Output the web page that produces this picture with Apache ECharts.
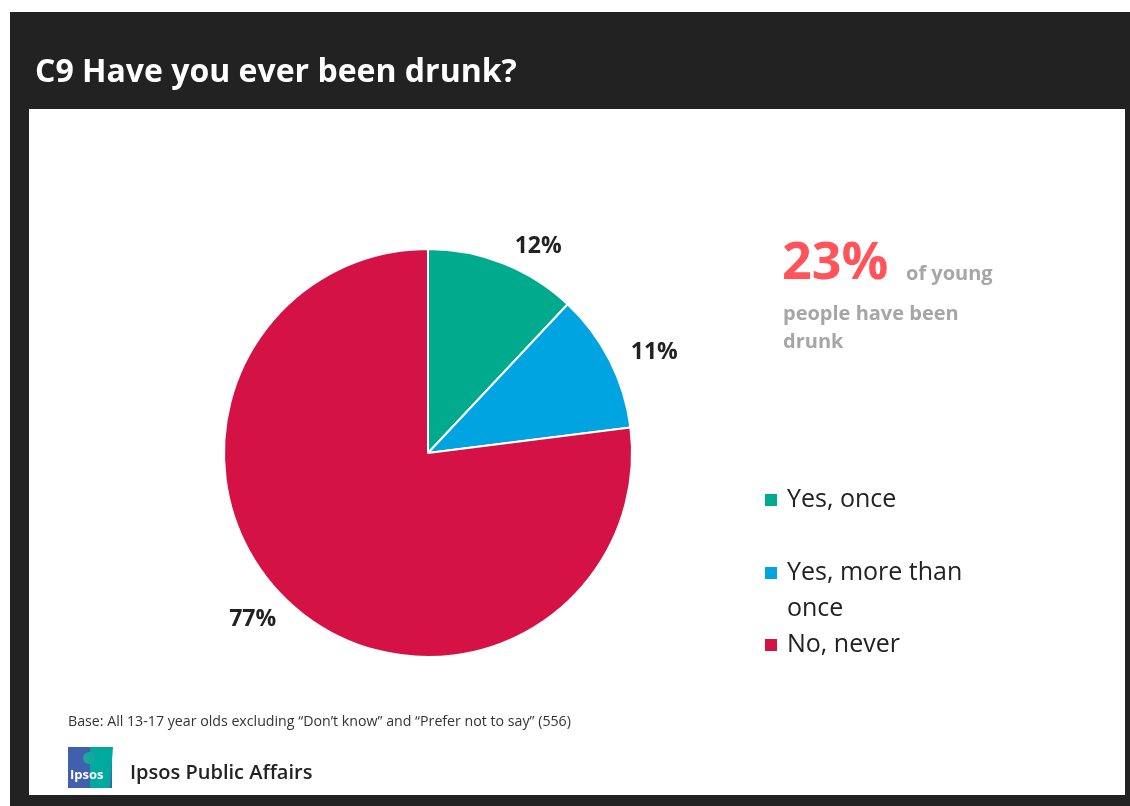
<!DOCTYPE html>
<html>
<head>
<meta charset="utf-8">
<script src="https://cdn.jsdelivr.net/npm/echarts@6/dist/echarts.min.js"></script>
<style>
html,body{margin:0;padding:0;background:#fff;}
#chart{width:1130px;height:806px;}
</style>
</head>
<body>
<div id="chart"></div>
<script>
const categories = ['Yes, once', 'Yes, more than once', 'No, never'];
const values = [12, 11, 77];
const colors = ['#00AA8D', '#00A4E1', '#D41245'];
const titleText = 'C9 Have you ever been drunk?';
const calloutValue = '23%';
const footnote = 'Base: All 13-17 year olds excluding \u201cDon\u2019t know\u201d and \u201cPrefer not to say\u201d (556)';
const brand = 'Ipsos Public Affairs';

const FONT = '"Open Sans", "Noto Sans", sans-serif';

const chart = echarts.init(document.getElementById('chart'), null, {renderer: 'canvas'});

const legendText = {fontFamily: FONT, fontSize: 25, color: '#222', lineHeight: 36, padding: [0, 0, 0, 4]};

function legendFor(i, top, extra) {
  return Object.assign({
    orient: 'vertical',
    left: 763,
    top: top,
    padding: 0,
    data: [categories[i]],
    icon: 'rect',
    itemWidth: 14,
    itemHeight: 14,
    selectedMode: false,
    textStyle: legendText
  }, extra || {});
}

function txt(x, y, text, fill, font, extra) {
  return {type: 'text', x: x, y: y, style: Object.assign({text: text, fill: fill, font: font, verticalAlign: 'middle'}, extra || {})};
}

const option = {
  animation: false,
  backgroundColor: '#fff',
  color: colors,
  legend: [
    legendFor(0, 482),
    legendFor(1, 555, {
      formatter: function () { return 'Yes, more than\nonce'; },
      icon: 'path://M0,0H14V14H0Z M0,49.95H0.05V50H0Z',
      itemHeight: 50,
      symbolKeepAspect: false
    }),
    legendFor(2, 627)
  ],
  graphic: [
    {type: 'rect', z: -20, shape: {x: 10, y: 12, width: 1120, height: 794}, style: {fill: '#222222'}},
    {type: 'rect', z: -19, shape: {x: 29, y: 109, width: 1096, height: 686}, style: {fill: '#ffffff'}},
    txt(35, 73, titleText, '#ffffff', 'bold 32px ' + FONT),
    txt(782, 264, calloutValue, '#FF5459', 'bold 52px ' + FONT),
    txt(906, 274, 'of young', '#A6A6A6', 'bold 20px ' + FONT),
    txt(783, 314, 'people have been', '#A6A6A6', 'bold 20px ' + FONT),
    txt(783, 342, 'drunk', '#A6A6A6', 'bold 20px ' + FONT),
    txt(68, 722, footnote, '#333333', '14.2px ' + FONT),
    {type: 'rect', shape: {x: 68, y: 747, width: 44, height: 41}, style: {fill: '#4060AE'}},
    {type: 'polygon', shape: {points: [[90, 747], [113, 747], [110, 788], [90, 788]]}, style: {fill: '#00A99D'}},
    {type: 'circle', shape: {cx: 89, cy: 758, r: 6}, style: {fill: '#1AA6A0'}},
    txt(70, 775, 'Ipsos', '#ffffff', 'bold 13px ' + FONT),
    txt(130, 773, brand, '#222222', '600 20px ' + FONT)
  ],
  series: [{
    type: 'pie',
    center: [428, 453],
    radius: 204,
    startAngle: 90,
    clockwise: true,
    avoidLabelOverlap: false,
    itemStyle: {borderColor: '#ffffff', borderWidth: 2},
    label: {
      show: true,
      position: 'outside',
      formatter: '{c}%',
      fontFamily: FONT,
      fontSize: 23,
      fontWeight: 'bold',
      color: '#222222'
    },
    labelLine: {show: false, length: 18, length2: 0},
    emphasis: {disabled: true},
    data: categories.map((c, i) => ({name: c, value: values[i]}))
  }]
};
chart.setOption(option);
</script>
</body>
</html>
